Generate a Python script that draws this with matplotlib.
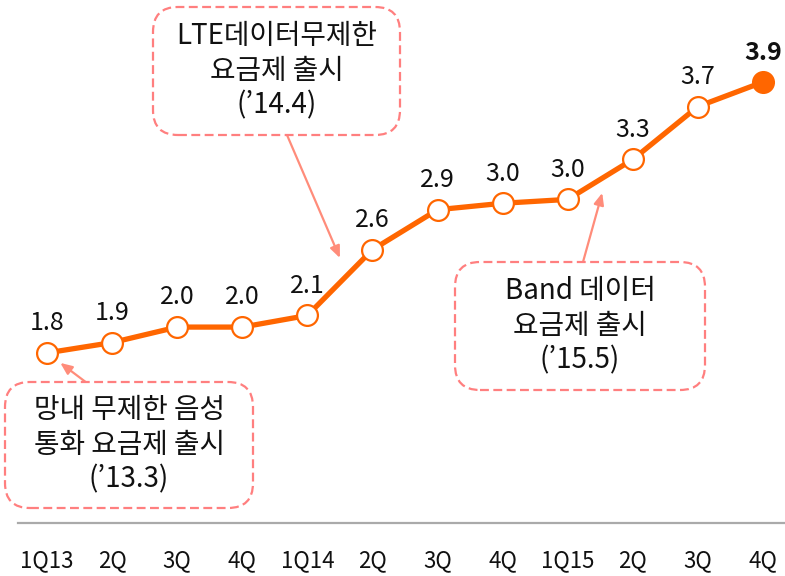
import matplotlib
matplotlib.use("Agg")
import matplotlib.pyplot as plt
from matplotlib.patches import FancyBboxPatch

plt.rcParams["font.family"] = ["Noto Sans CJK KR", "DejaVu Sans"]

# quarterly values
quarters = ["1Q13", "2Q", "3Q", "4Q", "1Q14", "2Q", "3Q", "4Q", "1Q15", "2Q", "3Q", "4Q"]
values = [1.80, 1.88, 2.00, 2.00, 2.09, 2.60, 2.91, 2.96, 2.99, 3.30, 3.71, 3.90]

# callout texts and where their arrows point (x index, value)
callout_texts = [
    "망내 무제한 음성\n통화 요금제 출시\n(\u201913.3)",
    "LTE데이터무제한\n요금제 출시\n(\u201914.4)",
    "Band 데이터\n요금제 출시\n(\u201915.5)",
]
callout_targets = [(0, 1.80), (4.5, 2.536), (8.53, 3.04)]

W, H = 785, 576
fig = plt.figure(figsize=(W / 100, H / 100), dpi=100)
ax = fig.add_axes([18 / W, (H - 523) / H, (W - 18) / W, 523 / H])

step = (763 - 47) / 11
ax.set_xlim(-(47 - 18) / step, 11 + 22 / step)
ax.set_ylim(0.481, 4.536)

orange = "#FF6600"
pink = "#FF7F7F"
arrow_col = "#FF8C7A"

x = list(range(len(values)))
ax.plot(x, values, color=orange, lw=3.8, zorder=3, solid_capstyle="round")
ax.plot(x[:-1], values[:-1], "o", ms=15, mfc="white", mec=orange, mew=1.6, zorder=4)
ax.plot(x[-1:], values[-1:], "o", ms=15, mfc=orange, mec=orange, mew=1.6, zorder=4)

for i, v in enumerate(values):
    last = i == len(values) - 1
    ax.annotate(f"{v:.1f}", (i, v), xytext=(0, 12), textcoords="offset points",
                ha="center", va="bottom", fontsize=18,
                fontweight="bold" if last else "normal", color="#111111")

for s in ["top", "left", "right"]:
    ax.spines[s].set_visible(False)
ax.spines["bottom"].set_color("#AAAAAA")
ax.spines["bottom"].set_linewidth(1.6)
ax.set_yticks([])
ax.set_xticks(x)
ax.set_xticklabels(quarters, fontsize=16, color="#111111")
ax.tick_params(axis="x", length=0, pad=19)

# callout boxes, in pixel positions of the picture (x0, y0, x1, y1)
boxes = [(5, 382, 253, 508), (153, 7, 400, 135), (455, 262, 705, 390)]
arrow_starts = [(87, 383), (287, 135), (583, 262)]
tr = fig.dpi_scale_trans
for (x0, y0, x1, y1), txt, start, tgt in zip(boxes, callout_texts, arrow_starts, callout_targets):
    patch = FancyBboxPatch((x0 / 100, (H - y1) / 100), (x1 - x0) / 100, (y1 - y0) / 100,
                           boxstyle="round,pad=0,rounding_size=0.25",
                           transform=tr, fc="white", ec=pink, lw=1.6,
                           ls=(0, (4, 2)), zorder=5)
    fig.add_artist(patch)
    fig.text((x0 + x1) / 2 / W, 1 - ((y0 + y1) / 2) / H, txt, ha="center", va="center",
             fontsize=20, linespacing=1.2, color="#111111", zorder=6)
    shrink = 12 if tgt[0] == 0 else 0
    ax.annotate("", xy=tgt, xycoords="data",
                xytext=(start[0] / 100, (H - start[1]) / 100), textcoords=tr,
                arrowprops=dict(arrowstyle="-|>,head_length=0.7,head_width=0.3",
                                color=arrow_col, lw=1.6, shrinkA=0, shrinkB=shrink),
                zorder=2)

fig.savefig("out.png", dpi=100)
